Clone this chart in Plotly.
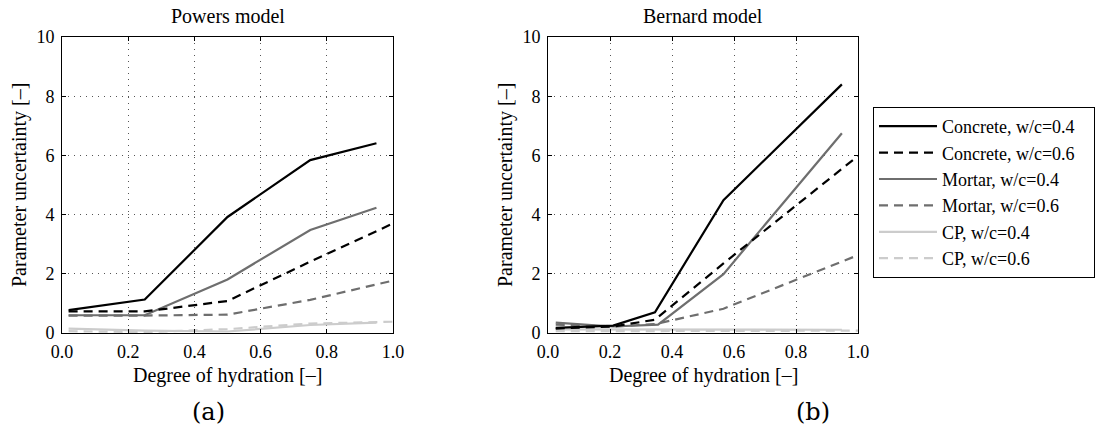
import plotly.graph_objects as go

# ---- data ----
names = ["Concrete, w/c=0.4", "Concrete, w/c=0.6", "Mortar, w/c=0.4",
         "Mortar, w/c=0.6", "CP, w/c=0.4", "CP, w/c=0.6"]

# Powers model
powers_x_solid = [0.02, 0.25, 0.5, 0.75, 0.95]
powers_x_dash = [0.02, 0.25, 0.5, 0.75, 1.0]
powers_concrete_04 = [0.77, 1.13, 3.92, 5.84, 6.41]
powers_concrete_06 = [0.73, 0.73, 1.08, 2.41, 3.70]
powers_mortar_04 = [0.60, 0.60, 1.81, 3.48, 4.23]
powers_mortar_06 = [0.59, 0.59, 0.62, 1.12, 1.77]
powers_cp_04 = [0.15, 0.08, 0.05, 0.27, 0.35]
powers_cp_06 = [0.06, 0.03, 0.13, 0.32, 0.38]

# Bernard model
bernard_x_solid = [0.025, 0.21, 0.345, 0.566, 0.948]
bernard_x_mortar = [0.025, 0.21, 0.355, 0.566, 0.948]
bernard_x_dash = [0.025, 0.21, 0.345, 0.566, 1.0]
bernard_concrete_04 = [0.17, 0.25, 0.70, 4.49, 8.40]
bernard_concrete_06 = [0.15, 0.22, 0.45, 2.35, 5.98]
bernard_mortar_04 = [0.35, 0.22, 0.28, 1.99, 6.75]
bernard_mortar_06 = [0.28, 0.22, 0.30, 0.82, 2.63]
bernard_cp_04 = [0.12, 0.12, 0.12, 0.12, 0.11]
bernard_cp_06 = [0.06, 0.07, 0.07, 0.07, 0.08]

x_ticks = [0.0, 0.2, 0.4, 0.6, 0.8, 1.0]
y_ticks = [0, 2, 4, 6, 8, 10]

colors = ["#000000", "#000000", "#6e6e6e", "#6e6e6e", "#cccccc", "#cccccc"]
dashes = ["solid", "9px,6px", "solid", "9px,6px", "solid", "9px,6px"]

FONT = "Liberation Serif"
FS = 18

fig = go.Figure()

powers = [(powers_x_solid, powers_concrete_04), (powers_x_dash, powers_concrete_06),
          (powers_x_solid, powers_mortar_04), (powers_x_dash, powers_mortar_06),
          (powers_x_solid, powers_cp_04), (powers_x_dash, powers_cp_06)]
bernard = [(bernard_x_solid, bernard_concrete_04), (bernard_x_dash, bernard_concrete_06),
           (bernard_x_mortar, bernard_mortar_04), (bernard_x_dash, bernard_mortar_06),
           (bernard_x_solid, bernard_cp_04), (bernard_x_dash, bernard_cp_06)]

legend_names = list(names)
legend_names[1] = names[1] + "\u00a0" * 3

for i in reversed(range(6)):
    xs, ys = powers[i]
    fig.add_trace(go.Scatter(x=xs, y=ys, mode="lines", name=legend_names[i],
                             line=dict(color=colors[i], width=2.2, dash=dashes[i]),
                             xaxis="x", yaxis="y", showlegend=True, legendrank=i + 1))
for i in reversed(range(6)):
    xs, ys = bernard[i]
    fig.add_trace(go.Scatter(x=xs, y=ys, mode="lines", name=names[i],
                             line=dict(color=colors[i], width=2.2, dash=dashes[i]),
                             xaxis="x2", yaxis="y2", showlegend=False))

grid = dict(showgrid=True, gridcolor="#555555", gridwidth=1, griddash="1px,5px",
            zeroline=False, showline=True, linecolor="black", linewidth=1,
            mirror="ticks", ticks="inside", ticklen=4, tickcolor="black",
            automargin=False,
            tickfont=dict(family=FONT, size=FS, color="black"))
ax_common = dict(range=[0, 1], tickvals=x_ticks, tickformat=".1f",
                 ticklabelstandoff=2, **grid)
ay_common = dict(range=[0, 10], tickvals=y_ticks, ticklabelstandoff=3, **grid)

y0, y1 = 1 - 333 / 432, 1 - 37 / 432
fig.update_layout(
    width=1109, height=432,
    margin=dict(l=0, r=0, t=0, b=0, autoexpand=False),
    paper_bgcolor="white", plot_bgcolor="white",
    xaxis=dict(domain=[62 / 1109, 393 / 1109], anchor="y", **ax_common),
    yaxis=dict(domain=[y0, y1], anchor="x", **ay_common),
    xaxis2=dict(domain=[548 / 1109, 858 / 1109], anchor="y2", **ax_common),
    yaxis2=dict(domain=[y0, y1], anchor="x2", **ay_common),
    legend=dict(x=873 / 1109, y=1 - 107 / 432, xanchor="left", yanchor="top",
                bgcolor="white", bordercolor="black", borderwidth=1,
                font=dict(family=FONT, size=FS, color="black"),
                tracegroupgap=0, itemwidth=58, traceorder="normal"),
    showlegend=True,
)

ann = []
def A(x, y, text, size=FS, angle=0, family=FONT):
    ann.append(dict(x=x, y=y, xref="paper", yref="paper", text=text, showarrow=False,
                    textangle=angle, xanchor="center", yanchor="middle",
                    font=dict(family=family, size=size, color="black")))

A(227.5 / 1109, 1 - 16 / 432, "Powers model", 20)
A(703 / 1109, 1 - 16 / 432, "Bernard model", 20)
A(227.5 / 1109, 1 - 375 / 432, "Degree of hydration [–]", 20)
A(703 / 1109, 1 - 375 / 432, "Degree of hydration [–]", 20)
A(20 / 1109, 1 - 185 / 432, "Parameter uncertainty [–]", 20, -90)
A(506 / 1109, 1 - 185 / 432, "Parameter uncertainty [–]", 20, -90)
A(208 / 1109, 1 - 412 / 432, "(a)", 24, 0, "DejaVu Serif")
A(813 / 1109, 1 - 412 / 432, "(b)", 24, 0, "DejaVu Serif")
fig.update_layout(annotations=ann)

fig.write_html("out.html")
